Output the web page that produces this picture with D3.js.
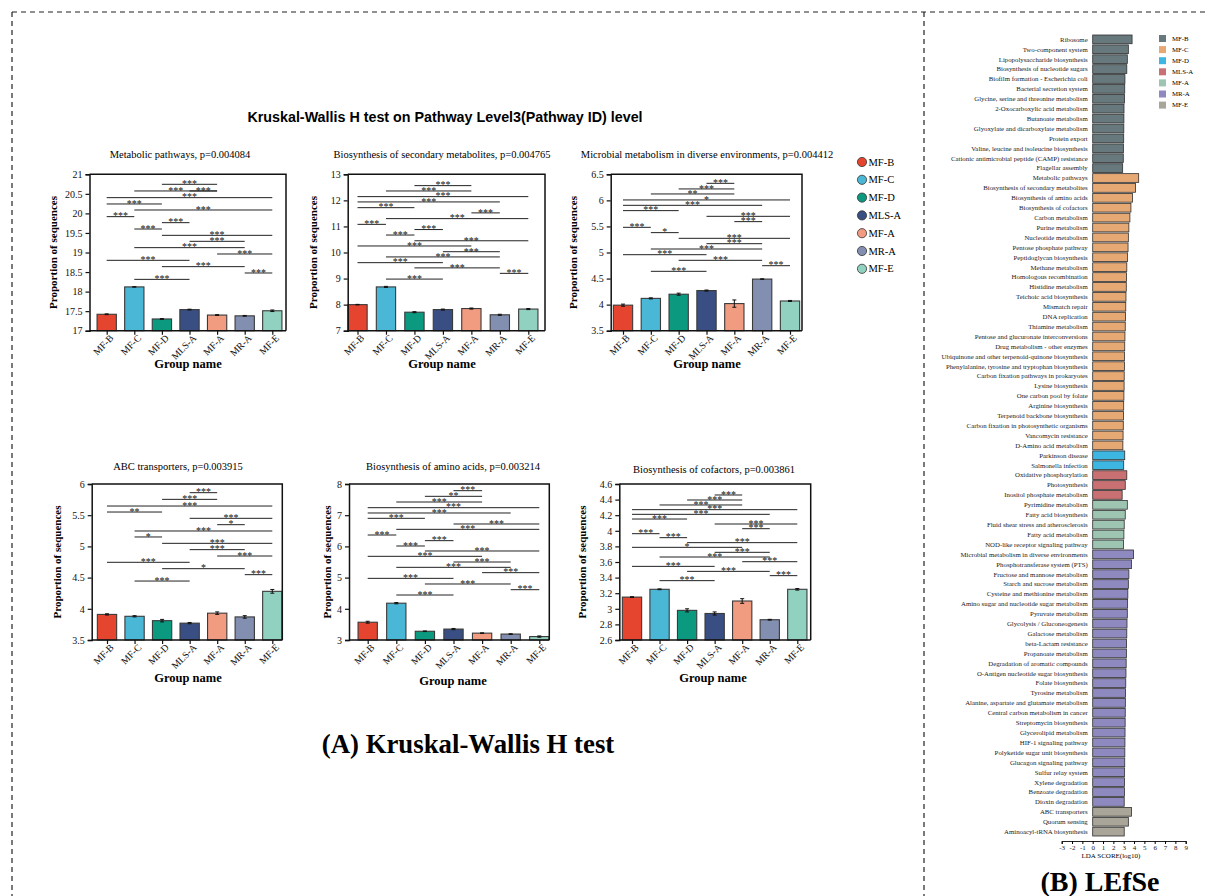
<!DOCTYPE html>
<html>
<head>
<meta charset="utf-8">
<script src="https://cdn.jsdelivr.net/npm/d3@7"></script>
<style>
  body { margin: 0; background: #fff; }
  svg { display: block; }
</style>
</head>
<body>
<svg id="chart" width="1206" height="896"></svg>
<script>
// ---------- Kruskal-Wallis panels: groups and per-pathway values ----------
const groups = ["MF-B", "MF-C", "MF-D", "MLS-A", "MF-A", "MR-A", "MF-E"];

const metabolicMean = [17.42, 18.12, 17.30, 17.54, 17.40, 17.38, 17.51];
const metabolicErr  = [0.01, 0.005, 0.01, 0.01, 0.01, 0.01, 0.02];
const metabolicTicks = [17, 17.5, 18, 18.5, 19, 19.5, 20, 20.5, 21];
// [group a, group b, bracket height, mark]
const metabolicSig = [
  [2, 4, 20.744, "***"], [1, 4, 20.574, "***"], [3, 4, 20.574, "***"],
  [0, 6, 20.403, "***"], [0, 2, 20.241, "***"], [1, 6, 20.087, "***"],
  [0, 1, 19.917, "***"], [2, 3, 19.763, "***"], [1, 2, 19.601, "***"],
  [2, 6, 19.439, "***"], [3, 5, 19.286, "***"], [1, 5, 19.124, "***"],
  [4, 6, 18.962, "***"], [0, 3, 18.800, "***"], [2, 5, 18.638, "***"],
  [5, 6, 18.476, "***"], [1, 3, 18.313, "***"]
];

const secondaryMean = [8.00, 8.68, 7.71, 7.81, 7.85, 7.61, 7.83];
const secondaryErr  = [0.01, 0.02, 0.02, 0.02, 0.02, 0.02, 0.02];
const secondaryTicks = [7, 8, 9, 10, 11, 12, 13];
const secondarySig = [
  [2, 4, 12.565, "***"], [1, 4, 12.36, "***"], [0, 6, 12.143, "***"],
  [0, 5, 11.94, "***"], [0, 2, 11.72, "***"], [4, 5, 11.52, "***"],
  [1, 6, 11.30, "***"], [0, 1, 11.08, "***"], [2, 3, 10.88, "***"],
  [1, 2, 10.67, "***"], [2, 6, 10.45, "***"], [0, 4, 10.25, "***"],
  [3, 5, 10.03, "***"], [1, 5, 9.83, "***"], [0, 3, 9.61, "***"],
  [2, 5, 9.41, "***"], [5, 6, 9.20, "***"], [1, 3, 8.98, "***"]
];

const microbialMean = [3.99, 4.12, 4.20, 4.27, 4.02, 4.49, 4.07];
const microbialErr  = [0.02, 0.01, 0.02, 0.01, 0.07, 0.005, 0.01];
const microbialTicks = [3.5, 4, 4.5, 5, 5.5, 6, 6.5];
const microbialSig = [
  [3, 4, 6.327, "***"], [2, 4, 6.219, "***"], [1, 4, 6.123, "**"],
  [0, 6, 6.008, "*"], [0, 5, 5.905, "***"], [0, 2, 5.803, "***"],
  [3, 6, 5.694, "***"], [4, 5, 5.592, "***"], [0, 1, 5.483, "***"],
  [1, 2, 5.381, "*"], [2, 6, 5.272, "***"], [3, 5, 5.169, "***"],
  [1, 5, 5.067, "***"], [0, 3, 4.958, "***"], [2, 5, 4.850, "***"],
  [5, 6, 4.747, "***"], [1, 3, 4.639, "***"]
];

const abcMean = [3.91, 3.88, 3.81, 3.77, 3.93, 3.87, 4.28];
const abcErr  = [0.01, 0.01, 0.02, 0.01, 0.02, 0.02, 0.03];
const abcTicks = [3.5, 4, 4.5, 5, 5.5, 6];
const abcSig = [
  [3, 4, 5.861, "***"], [2, 4, 5.754, "***"], [0, 6, 5.647, "***"],
  [0, 2, 5.551, "**"], [3, 6, 5.450, "***"], [4, 5, 5.348, "*"],
  [1, 6, 5.247, "***"], [1, 2, 5.151, "*"], [2, 6, 5.049, "***"],
  [3, 5, 4.948, "***"], [4, 6, 4.846, "***"], [0, 3, 4.745, "***"],
  [2, 5, 4.643, "*"], [5, 6, 4.547, "***"], [1, 3, 4.445, "***"]
];

const aminoMean = [3.57, 4.18, 3.28, 3.35, 3.22, 3.19, 3.11];
const aminoErr  = [0.03, 0.02, 0.01, 0.02, 0.01, 0.01, 0.02];
const aminoTicks = [3, 4, 5, 6, 7, 8];
const aminoSig = [
  [3, 4, 7.786, "***"], [2, 4, 7.605, "**"], [1, 4, 7.423, "***"],
  [0, 6, 7.241, "***"], [0, 5, 7.071, "***"], [0, 2, 6.90, "***"],
  [3, 6, 6.718, "***"], [1, 6, 6.547, "***"], [0, 1, 6.365, "***"],
  [2, 3, 6.184, "***"], [1, 2, 6.013, "***"], [2, 6, 5.853, "***"],
  [0, 4, 5.682, "***"], [3, 5, 5.50, "***"], [1, 5, 5.329, "***"],
  [4, 6, 5.158, "***"], [0, 3, 4.976, "***"], [2, 5, 4.795, "***"],
  [5, 6, 4.613, "***"], [1, 3, 4.442, "***"]
];

const cofactorMean = [3.15, 3.25, 2.98, 2.94, 3.10, 2.86, 3.25];
const cofactorErr  = [0.005, 0.005, 0.02, 0.02, 0.03, 0.005, 0.01];
const cofactorTicks = [2.6, 2.8, 3, 3.2, 3.4, 3.6, 3.8, 4, 4.2, 4.4, 4.6];
const cofactorSig = [
  [3, 4, 4.459, "***"], [2, 4, 4.395, "***"], [1, 4, 4.331, "***"],
  [0, 6, 4.271, "***"], [0, 5, 4.211, "***"], [0, 2, 4.151, "***"],
  [3, 6, 4.087, "***"], [4, 5, 4.027, "***"], [0, 1, 3.963, "***"],
  [1, 2, 3.912, "***"], [2, 6, 3.848, "***"], [0, 4, 3.788, "*"],
  [3, 5, 3.724, "***"], [1, 5, 3.664, "***"], [4, 6, 3.604, "***"],
  [0, 3, 3.544, "***"], [2, 5, 3.480, "***"], [5, 6, 3.425, "***"],
  [1, 3, 3.361, "***"]
];

// ---------- LEfSe: enriched pathways per group and LDA scores ----------
const lefseGroups = ["MF-B", "MF-C", "MF-D", "MLS-A", "MF-A", "MR-A", "MF-E"];
const lefseFeatures = [
  "Ribosome", "Two-component system", "Lipopolysaccharide biosynthesis",
  "Biosynthesis of nucleotide sugars", "Biofilm formation - Escherichia coli",
  "Bacterial secretion system", "Glycine, serine and threonine metabolism",
  "2-Oxocarboxylic acid metabolism", "Butanoate metabolism",
  "Glyoxylate and dicarboxylate metabolism", "Protein export",
  "Valine, leucine and isoleucine biosynthesis",
  "Cationic antimicrobial peptide (CAMP) resistance", "Flagellar assembly",
  "Metabolic pathways", "Biosynthesis of secondary metabolites",
  "Biosynthesis of amino acids", "Biosynthesis of cofactors", "Carbon metabolism",
  "Purine metabolism", "Nucleotide metabolism", "Pentose phosphate pathway",
  "Peptidoglycan biosynthesis", "Methane metabolism", "Homologous recombination",
  "Histidine metabolism", "Teichoic acid biosynthesis", "Mismatch repair",
  "DNA replication", "Thiamine metabolism", "Pentose and glucuronate interconversions",
  "Drug metabolism - other enzymes", "Ubiquinone and other terpenoid-quinone biosynthesis",
  "Phenylalanine, tyrosine and tryptophan biosynthesis",
  "Carbon fixation pathways in prokaryotes", "Lysine biosynthesis",
  "One carbon pool by folate", "Arginine biosynthesis", "Terpenoid backbone biosynthesis",
  "Carbon fixation in photosynthetic organisms", "Vancomycin resistance",
  "D-Amino acid metabolism",
  "Parkinson disease", "Salmonella infection",
  "Oxidative phosphorylation", "Photosynthesis", "Inositol phosphate metabolism",
  "Pyrimidine metabolism", "Fatty acid biosynthesis",
  "Fluid shear stress and atherosclerosis", "Fatty acid metabolism",
  "NOD-like receptor signaling pathway",
  "Microbial metabolism in diverse environments", "Phosphotransferase system (PTS)",
  "Fructose and mannose metabolism", "Starch and sucrose metabolism",
  "Cysteine and methionine metabolism", "Amino sugar and nucleotide sugar metabolism",
  "Pyruvate metabolism", "Glycolysis / Gluconeogenesis", "Galactose metabolism",
  "beta-Lactam resistance", "Propanoate metabolism", "Degradation of aromatic compounds",
  "O-Antigen nucleotide sugar biosynthesis", "Folate biosynthesis", "Tyrosine metabolism",
  "Alanine, aspartate and glutamate metabolism", "Central carbon metabolism in cancer",
  "Streptomycin biosynthesis", "Glycerolipid metabolism", "HIF-1 signaling pathway",
  "Polyketide sugar unit biosynthesis", "Glucagon signaling pathway",
  "Sulfur relay system", "Xylene degradation", "Benzoate degradation",
  "Dioxin degradation",
  "ABC transporters", "Quorum sensing", "Aminoacyl-tRNA biosynthesis"
];
const lefseScores = [
  3.81, 3.45, 3.35, 3.30, 3.12, 3.10, 3.08, 3.03, 3.02, 3.01, 3.00, 2.97, 2.96, 2.90,
  4.45, 4.15, 3.85, 3.70, 3.60, 3.50, 3.45, 3.42, 3.38, 3.30, 3.28, 3.25, 3.22, 3.20,
  3.18, 3.15, 3.12, 3.10, 3.08, 3.07, 3.05, 3.04, 3.02, 3.00, 2.98, 2.96, 2.94, 2.92,
  3.10, 3.00,
  3.30, 3.15, 2.85,
  3.35, 3.15, 3.05, 3.02, 2.98,
  3.95, 3.75, 3.50, 3.45, 3.40, 3.38, 3.35, 3.32, 3.30, 3.28, 3.26, 3.24, 3.22, 3.20,
  3.18, 3.16, 3.15, 3.14, 3.13, 3.12, 3.11, 3.10, 3.09, 3.08, 3.07, 3.05,
  3.75, 3.45, 3.05
];
// number of consecutive features belonging to each LEfSe group
const lefseGroupSizes = [14, 28, 2, 3, 5, 26, 3];
const ldaTicks = [-3, -2, -1, 0, 1, 2, 3, 4, 5, 6, 7, 8, 9];

// ---------- styles ----------
const barColors = ["#e5452f", "#49b7d5", "#0b9a80", "#394f83", "#f19b81", "#838fb1", "#90d1c0"];
const lefseColors = ["#68797e", "#e7a974", "#3db6e2", "#c97172", "#9dc5b1", "#8e89bf", "#a9a598"];
const SERIF = "'Liberation Serif', 'Times New Roman', serif";
const SANS = "'Liberation Sans', Arial, sans-serif";

const panels = [
  { title: "Metabolic pathways, p=0.004084", mean: metabolicMean, err: metabolicErr,
    ticks: metabolicTicks, sig: metabolicSig,
    box: { left: 89.5, right: 286, top: 174.3, bottom: 330.7, x0: 106.7, x1: 272.3 },
    titleX: 180, titleY: 157.5, ylabX: 53, nameX: 188, nameY: 367.5 },
  { title: "Biosynthesis of secondary metabolites, p=0.004765", mean: secondaryMean, err: secondaryErr,
    ticks: secondaryTicks, sig: secondarySig,
    box: { left: 347.7, right: 545, top: 174.3, bottom: 330.7, x0: 357.5, x1: 528.3 },
    titleX: 442, titleY: 157.5, ylabX: 313, nameX: 442, nameY: 367.5 },
  { title: "Microbial metabolism in diverse environments, p=0.004412", mean: microbialMean, err: microbialErr,
    ticks: microbialTicks, sig: microbialSig,
    box: { left: 610.7, right: 802, top: 174.3, bottom: 330.7, x0: 623, x1: 790 },
    titleX: 707, titleY: 157.5, ylabX: 573, nameX: 707, nameY: 367.5 },
  { title: "ABC transporters, p=0.003915", mean: abcMean, err: abcErr,
    ticks: abcTicks, sig: abcSig,
    box: { left: 91.7, right: 282.3, top: 484, bottom: 640, x0: 107, x1: 272.3 },
    titleX: 178, titleY: 469.5, ylabX: 57, nameX: 188, nameY: 681.5 },
  { title: "Biosynthesis of amino acids, p=0.003214", mean: aminoMean, err: aminoErr,
    ticks: aminoTicks, sig: aminoSig,
    box: { left: 349, right: 549.3, top: 484, bottom: 640, x0: 367.7, x1: 539.3 },
    titleX: 453, titleY: 469.5, ylabX: 327, nameX: 453, nameY: 684.5 },
  { title: "Biosynthesis of cofactors, p=0.003861", mean: cofactorMean, err: cofactorErr,
    ticks: cofactorTicks, sig: cofactorSig,
    box: { left: 619.3, right: 810.7, top: 484, bottom: 640, x0: 632, x1: 797.3 },
    titleX: 714, titleY: 473, ylabX: 582, nameX: 713, nameY: 681.5 }
];

const svg = d3.select("#chart");
svg.append("rect").attr("width", 1206).attr("height", 896).attr("fill", "#fff");

// dashed frame around both parts
const dash = svg.append("g").attr("stroke", "#222").attr("stroke-width", 1.2)
  .attr("stroke-dasharray", "5,4").attr("fill", "none");
dash.append("line").attr("x1", 12).attr("y1", 12).attr("x2", 1206).attr("y2", 12);
dash.append("line").attr("x1", 12).attr("y1", 12).attr("x2", 12).attr("y2", 896);
dash.append("line").attr("x1", 924).attr("y1", 12).attr("x2", 924).attr("y2", 896);

// overall heading
svg.append("text").attr("x", 445).attr("y", 122).attr("text-anchor", "middle")
  .attr("font-family", SANS).attr("font-weight", "bold").attr("font-size", 14.3)
  .text("Kruskal-Wallis H test on Pathway Level3(Pathway ID) level");

const fmt = d3.format("~g");
const plain = d => String(d);

panels.forEach(p => {
  const b = p.box;
  const g = svg.append("g");
  const x = d3.scalePoint().domain(groups).range([b.x0, b.x1]);
  const y = d3.scaleLinear().domain([p.ticks[0], p.ticks[p.ticks.length - 1]]).range([b.bottom, b.top]);
  const bw = 19.3;

  // bars
  g.selectAll("rect.bar").data(p.mean).join("rect")
    .attr("class", "bar")
    .attr("x", (d, i) => x(groups[i]) - bw / 2)
    .attr("width", bw)
    .attr("y", d => y(d))
    .attr("height", d => y(p.ticks[0]) - y(d))
    .attr("fill", (d, i) => barColors[i])
    .attr("stroke", "#3a3a3a").attr("stroke-width", 1.1);

  // error bars
  const eg = g.append("g").attr("stroke", "#111").attr("stroke-width", 1);
  p.mean.forEach((m, i) => {
    const cx = x(groups[i]);
    const e = p.err[i];
    eg.append("line").attr("x1", cx).attr("x2", cx).attr("y1", y(m - e)).attr("y2", y(m + e));
    eg.append("line").attr("x1", cx - 2).attr("x2", cx + 2).attr("y1", y(m + e)).attr("y2", y(m + e));
    eg.append("line").attr("x1", cx - 2).attr("x2", cx + 2).attr("y1", y(m - e)).attr("y2", y(m - e));
  });

  // significance brackets
  p.sig.forEach(([a, c, h, mark]) => {
    const xa = x(groups[a]), xc = x(groups[c]);
    g.append("line").attr("x1", xa).attr("x2", xc).attr("y1", y(h)).attr("y2", y(h))
      .attr("stroke", "#222").attr("stroke-width", 1);
    g.append("text").attr("x", (xa + xc) / 2).attr("y", y(h) + 2.8)
      .attr("text-anchor", "middle").attr("font-family", SERIF).attr("font-size", 10)
      .attr("fill", "#111").text(mark);
  });

  // frame (top and right)
  g.append("path")
    .attr("d", `M${b.left},${b.top}H${b.right}V${b.bottom}`)
    .attr("fill", "none").attr("stroke", "#111").attr("stroke-width", 1.5);

  // y axis
  const ya = g.append("g").attr("transform", `translate(${b.left},0)`)
    .call(d3.axisLeft(y).tickValues(p.ticks).tickFormat(fmt).tickSize(4).tickPadding(3));
  ya.select(".domain").attr("stroke-width", 1.5).attr("stroke", "#111");
  ya.selectAll(".tick line").attr("stroke-width", 1.2).attr("stroke", "#111");
  ya.selectAll("text").attr("font-family", SERIF).attr("font-size", 10).attr("fill", "#111");

  // x axis
  const xa = g.append("g").attr("transform", `translate(0,${b.bottom})`)
    .call(d3.axisBottom(x).tickSize(4).tickSizeOuter(0));
  xa.select(".domain").attr("d", `M${b.left},0H${b.right}`).attr("stroke-width", 1.5).attr("stroke", "#111");
  xa.selectAll(".tick line").attr("stroke-width", 1.2).attr("stroke", "#111");
  xa.selectAll("text")
    .attr("font-family", SERIF).attr("font-size", 9.8).attr("fill", "#111")
    .attr("text-anchor", "end").attr("dy", null)
    .attr("transform", "translate(7,8) rotate(-45)")
    .attr("x", 0).attr("y", 0);

  // titles
  g.append("text").attr("x", p.titleX).attr("y", p.titleY).attr("text-anchor", "middle")
    .attr("font-family", SERIF).attr("font-size", 10.5).text(p.title);
  g.append("text")
    .attr("transform", `translate(${p.ylabX},${(b.top + b.bottom) / 2}) rotate(-90)`)
    .attr("text-anchor", "middle").attr("dy", "0.35em")
    .attr("font-family", SERIF).attr("font-weight", "bold").attr("font-size", 11)
    .text("Proportion of sequences");
  g.append("text").attr("x", p.nameX).attr("y", p.nameY).attr("text-anchor", "middle")
    .attr("font-family", SERIF).attr("font-weight", "bold").attr("font-size", 12.5)
    .text("Group name");
});

// group legend (circles)
const lg = svg.append("g");
groups.forEach((gname, i) => {
  const cy = 162 + i * 17.8;
  lg.append("circle").attr("cx", 862).attr("cy", cy).attr("r", 4.6)
    .attr("fill", barColors[i]).attr("stroke", "#333").attr("stroke-width", 0.8);
  lg.append("text").attr("x", 868.5).attr("y", cy).attr("dy", "0.35em")
    .attr("font-family", SERIF).attr("font-size", 10.5).text(gname);
});

svg.append("text").attr("x", 468).attr("y", 753).attr("text-anchor", "middle")
  .attr("font-family", SERIF).attr("font-weight", "bold").attr("font-size", 26.8)
  .text("(A) Kruskal-Wallis H test");

// ---------- LEfSe bar chart ----------
const featureGroup = [];
lefseGroupSizes.forEach((n, gi) => { for (let k = 0; k < n; k++) featureGroup.push(gi); });

const lx = d3.scaleLinear().domain([ldaTicks[0], ldaTicks[ldaTicks.length - 1]]).range([1061.7, 1185.7]);
const ly = d3.scaleBand().domain(d3.range(lefseFeatures.length)).range([35, 836]).paddingInner(0.12);

const lb = svg.append("g");
lb.selectAll("rect").data(lefseScores).join("rect")
  .attr("x", lx(0))
  .attr("y", (d, i) => ly(i))
  .attr("width", d => lx(d) - lx(0))
  .attr("height", ly.bandwidth())
  .attr("fill", (d, i) => lefseColors[featureGroup[i]])
  .attr("stroke", "#2f2f2f").attr("stroke-width", 0.8);

lb.selectAll("text").data(lefseFeatures).join("text")
  .attr("x", lx(0) - 5)
  .attr("y", (d, i) => ly(i) + ly.bandwidth() / 2)
  .attr("dy", "0.35em").attr("text-anchor", "end")
  .attr("font-family", SERIF).attr("font-size", 6.8).attr("fill", "#1a1a1a")
  .text(d => d);

const lax = svg.append("g").attr("transform", "translate(0,841)")
  .call(d3.axisBottom(lx).tickValues(ldaTicks).tickFormat(plain).tickSize(3).tickPadding(1.5));
lax.select(".domain").attr("stroke", "#222");
lax.selectAll("text").attr("font-family", SERIF).attr("font-size", 7).attr("fill", "#222");
svg.append("text").attr("x", 1111).attr("y", 858).attr("text-anchor", "middle")
  .attr("font-family", SERIF).attr("font-size", 7).text("LDA SCORE(log10)");

// LEfSe legend
lefseGroups.forEach((gname, i) => {
  const cy = 38.5 + i * 11.1;
  svg.append("rect").attr("x", 1159).attr("y", cy - 3.5).attr("width", 7).attr("height", 7)
    .attr("fill", lefseColors[i]);
  svg.append("text").attr("x", 1172).attr("y", cy).attr("dy", "0.35em")
    .attr("font-family", SERIF).attr("font-size", 6.8).text(gname);
});

svg.append("text").attr("x", 1100).attr("y", 891).attr("text-anchor", "middle")
  .attr("font-family", SERIF).attr("font-weight", "bold").attr("font-size", 28)
  .text("(B) LEfSe");
</script>
</body>
</html>
